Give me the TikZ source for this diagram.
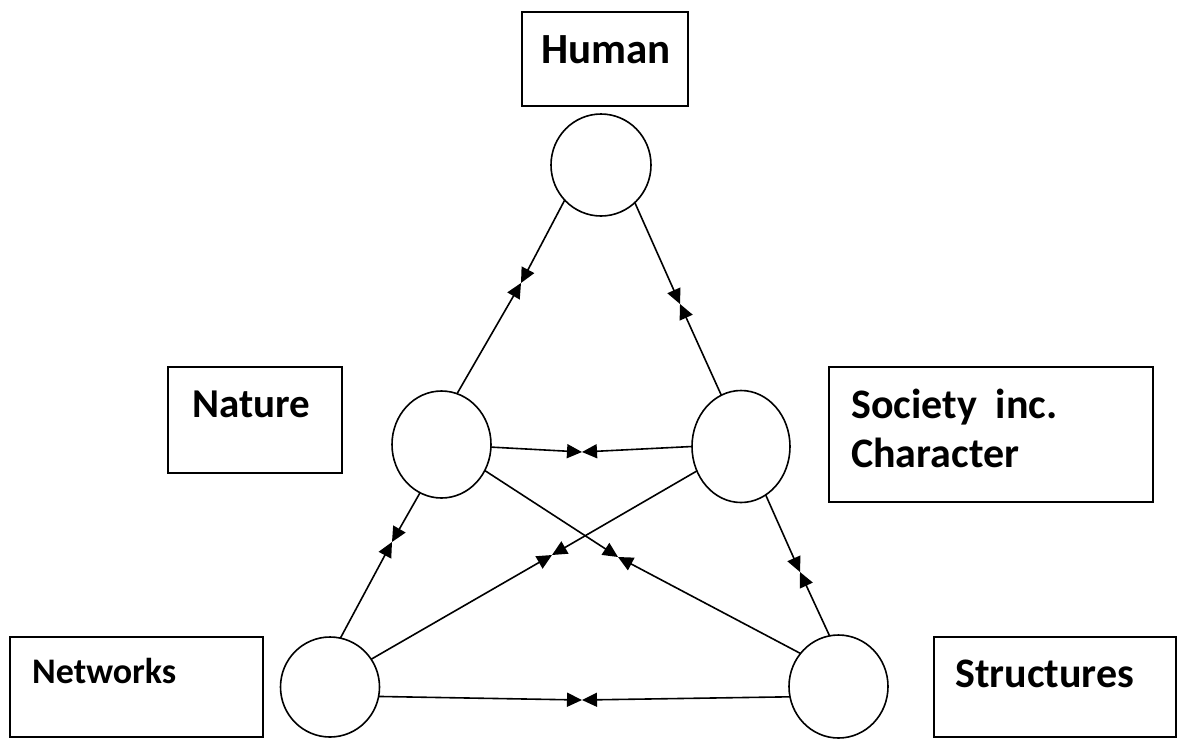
\documentclass[tikz,border=0pt]{standalone}
\usepackage{fontspec}
\setmainfont{Carlito}
\usetikzlibrary{arrows.meta,calc,shapes.geometric}
\begin{document}
\begin{tikzpicture}[x=1pt,y=-1pt,
  frame/.style={draw,line width=1.6pt,rectangle,inner sep=0pt,outer sep=0pt,anchor=north west},
  ring/.style={draw,line width=1.6pt,ellipse,inner sep=0pt,outer sep=0pt},
  lbl/.style={anchor=base west,inner sep=0pt,font=\bfseries\fontsize{#1}{#1}\selectfont},
  half/.style={line width=1.6pt,-{Triangle[length=15pt,width=14pt]}}]
\useasboundingbox (0,0) rectangle (1178,740);
% boxes
\node[frame,minimum width=166pt,minimum height=94pt] (hbox) at (522,12) {};
\node[frame,minimum width=174pt,minimum height=106pt] (nbox) at (168,367) {};
\node[frame,minimum width=324pt,minimum height=135pt] (sbox) at (829,367) {};
\node[frame,minimum width=253pt,minimum height=100pt] (wbox) at (10,637) {};
\node[frame,minimum width=242pt,minimum height=100pt] (tbox) at (934,637) {};
% labels
\node[lbl=43] (htxt) at (541,63) {Human};
\node[lbl=41] (ntxt) at (192,417) {Nature};
\node[lbl=42] (stxt1) at (851,418) {Society\ \ inc.};
\node[lbl=42] (stxt2) at (851,467) {Character};
\node[lbl=36] (wtxt) at (32,683) {Networks};
\node[lbl=42] (ttxt) at (955,687) {Structures};
% circles
\node[ring,minimum width=100pt,minimum height=102pt] (hum) at (601,165) {};
\node[ring,minimum width=99pt,minimum height=107pt] (nat) at (441.5,444.5) {};
\node[ring,minimum width=98pt,minimum height=112pt] (soc) at (741,446.5) {};
\node[ring,minimum width=99pt,minimum height=100pt] (net) at (330,687) {};
\node[ring,minimum width=99pt,minimum height=103pt] (str) at (838.5,686.5) {};
% meeting points
\coordinate (m1) at (521,283);
\coordinate (m2) at (680,304);
\coordinate (m3) at (582,452);
\coordinate (m4) at (392,542);
\coordinate (m5) at (800,572);
\coordinate (m6) at (552,555);
\coordinate (m7) at (618,557);
\coordinate (m8) at (582,700);
% connectors
\draw[half] (hum.224) -- (m1);
\draw[half] (nat.73) -- (m1);
\draw[half] (hum.312) -- (m2);
\draw[half] (soc.111) -- (m2);
\draw[half] (nat.357) -- (m3);
\draw[half] (soc.180) -- (m3);
\draw[half] (nat.246) -- (m4);
\draw[half] (net.78) -- (m4);
\draw[half] (soc.297) -- (m5);
\draw[half] (str.100) -- (m5);
\draw[half] (soc.209) -- (m6);
\draw[half] (net.34) -- (m6);
\draw[half] (nat.329) -- (m7);
\draw[half] (str.139) -- (m7);
\draw[half] (net.349) -- (m8);
\draw[half] (str.192) -- (m8);
\end{tikzpicture}
\end{document}
